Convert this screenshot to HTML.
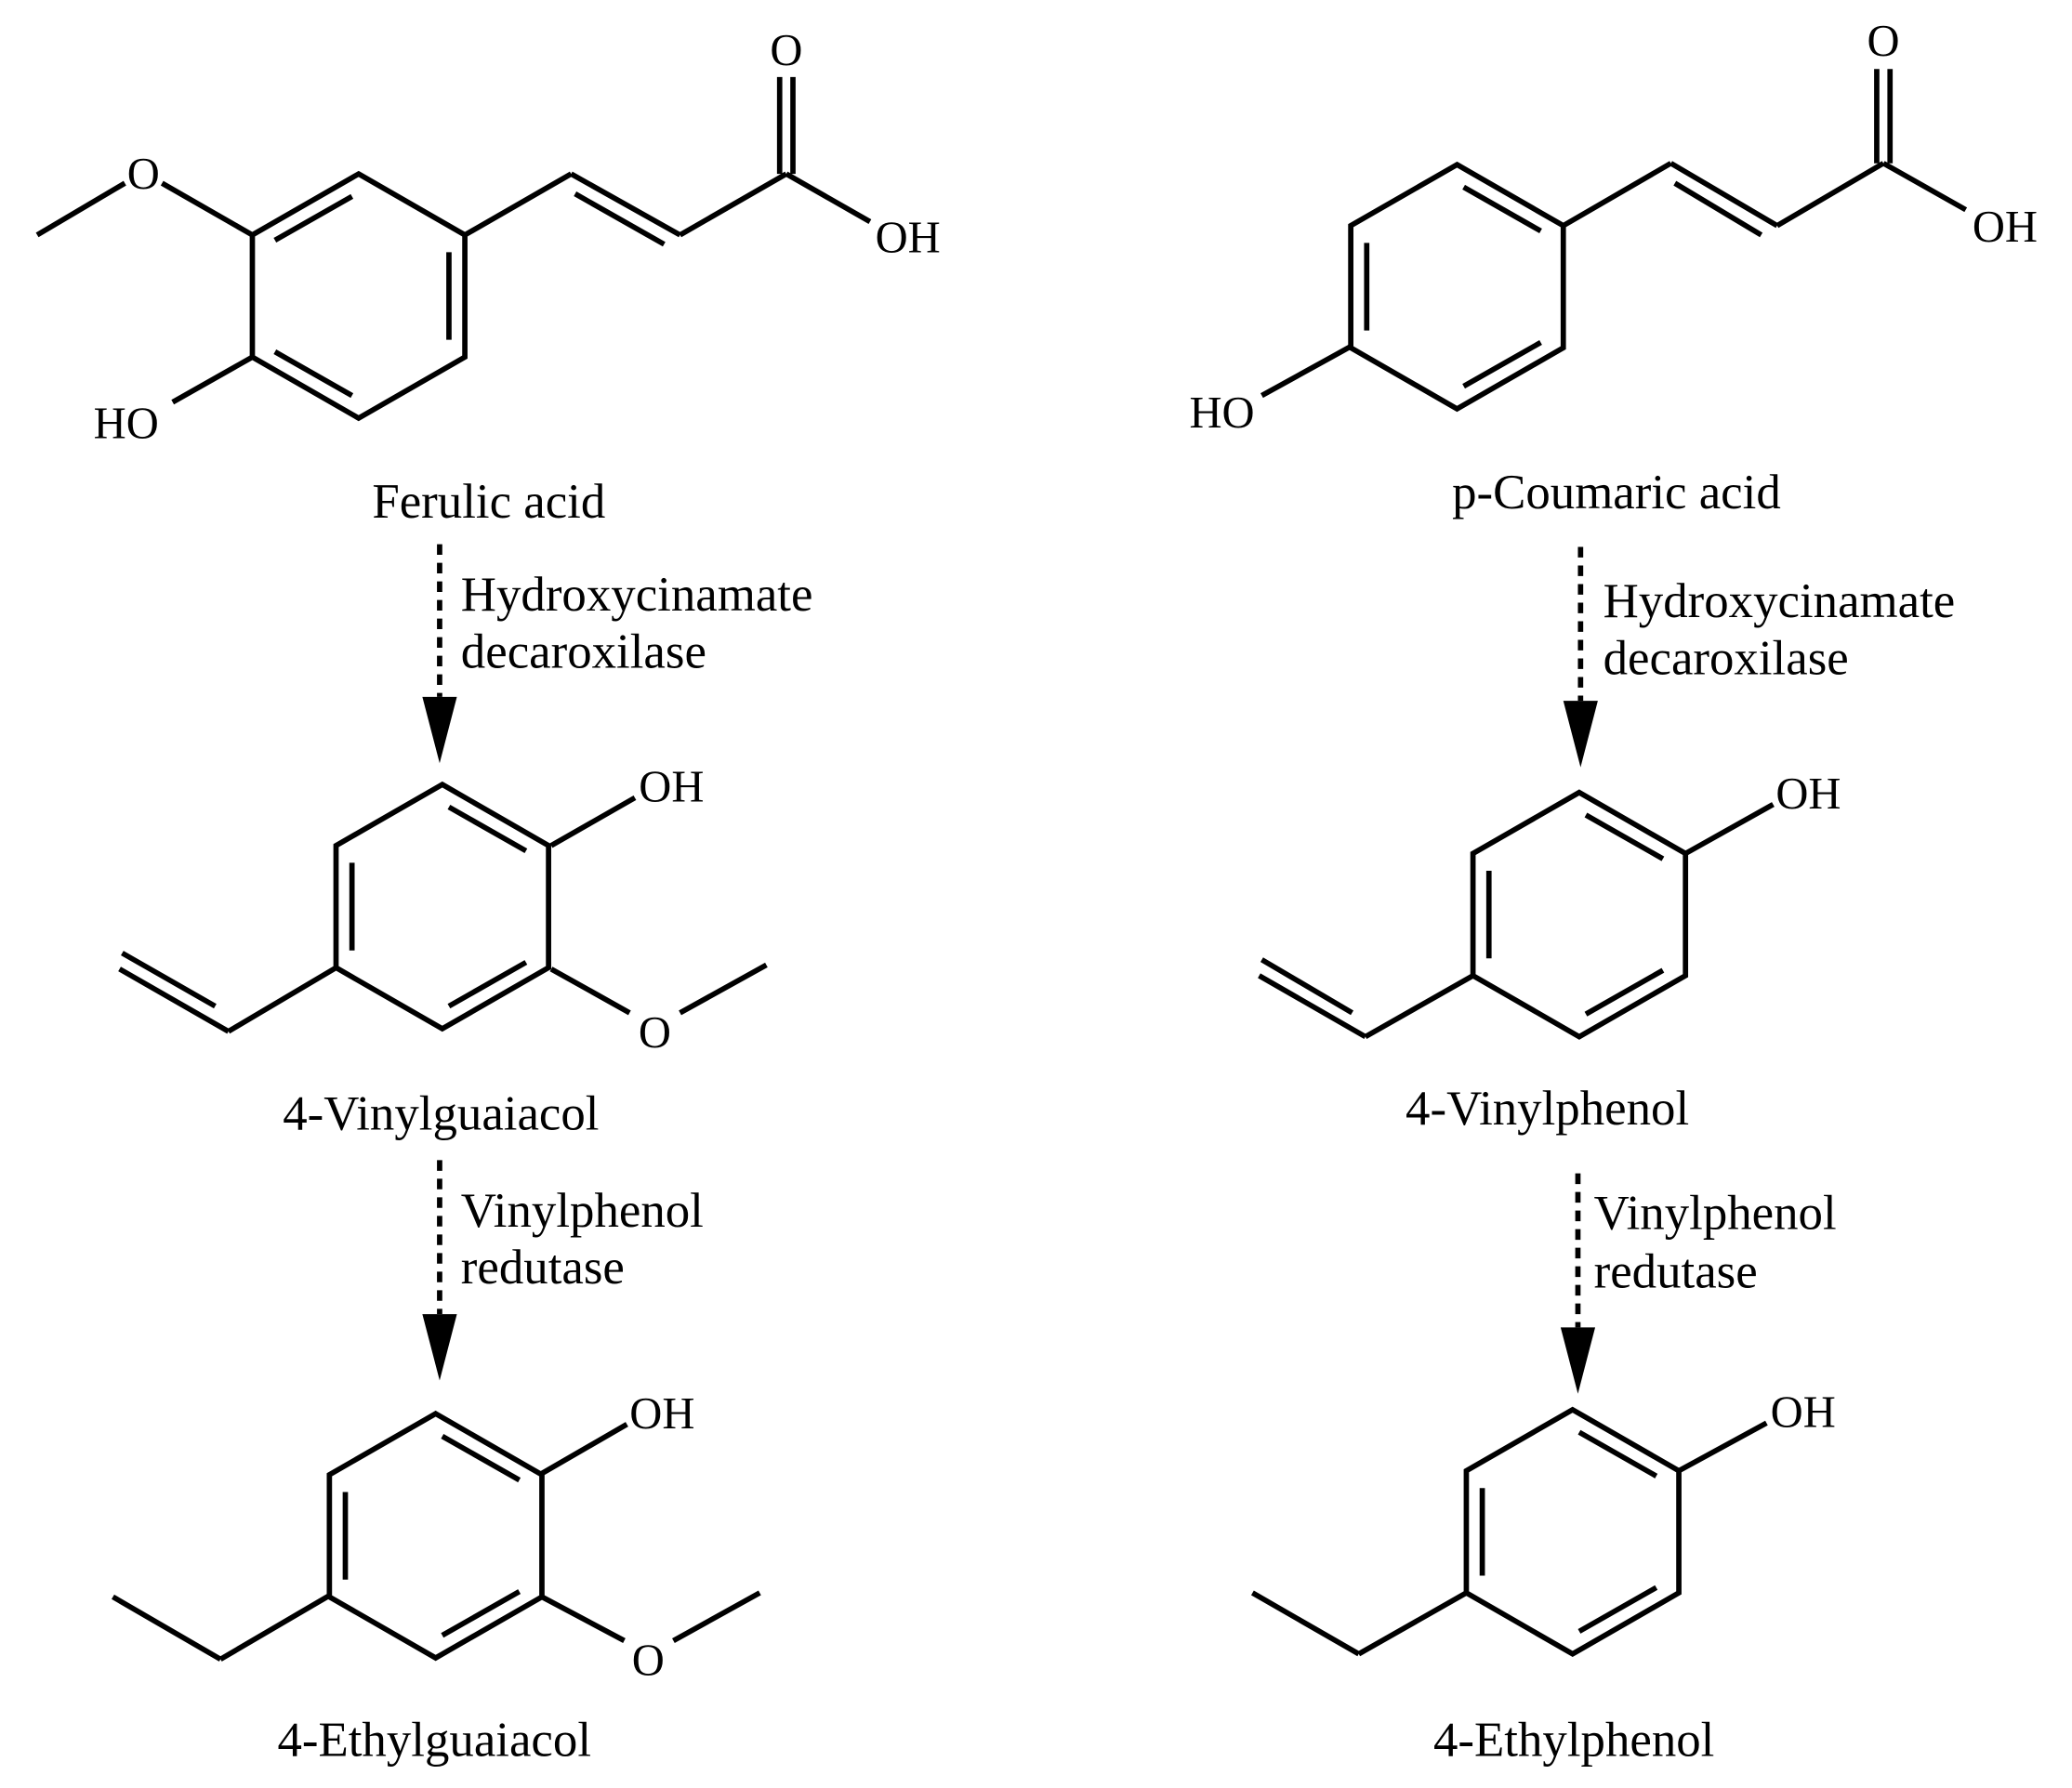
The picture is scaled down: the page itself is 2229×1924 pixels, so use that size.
<!DOCTYPE html>
<html><head><meta charset="utf-8"><style>
html,body{margin:0;padding:0;background:#fff;}
svg{display:block;}
text{font-family:"Liberation Serif",serif;fill:#000;}
</style></head><body>
<svg width="2229" height="1924" viewBox="0 0 1560 1347" preserveAspectRatio="none" xmlns="http://www.w3.org/2000/svg">
<defs>
<g id="ringA" fill="none" stroke="#000" stroke-width="4" stroke-linejoin="miter">
<polygon points="0,-92 80,-46 80,46 0,92 -80,46 -80,-46"/>
<line x1="-63" y1="-42" x2="-5" y2="-75"/>
<line x1="68" y1="-33" x2="68" y2="33"/>
<line x1="-63" y1="42" x2="-5" y2="75"/>
</g>
<g id="ringB" fill="none" stroke="#000" stroke-width="4" stroke-linejoin="miter">
<polygon points="0,-92 80,-46 80,46 0,92 -80,46 -80,-46"/>
<line x1="5" y1="-75" x2="63" y2="-42"/>
<line x1="-68" y1="-33" x2="-68" y2="33"/>
<line x1="5" y1="75" x2="63" y2="42"/>
</g>
<g id="arrowhead"><polygon points="-13,0 13,0 0,50" fill="#000"/></g>
</defs>

<g stroke="#000" stroke-width="4" fill="none">
<line x1="190" y1="177" x2="122" y2="138"/>
<line x1="94" y1="138" x2="28" y2="177"/>
<line x1="190" y1="269" x2="130" y2="303"/>
<line x1="350" y1="177" x2="430" y2="131"/>
<line x1="430" y1="131" x2="512" y2="177"/>
<line x1="433" y1="146" x2="500" y2="184"/>
<line x1="512" y1="177" x2="592" y2="131"/>
<line x1="587" y1="131" x2="587" y2="58"/>
<line x1="597" y1="131" x2="597" y2="58"/>
<line x1="592" y1="131" x2="655" y2="167"/>

<line x1="415" y1="637" x2="478" y2="601"/>
<line x1="415" y1="730" x2="474" y2="763"/>
<line x1="512" y1="763" x2="577" y2="727"/>
<line x1="253" y1="729" x2="172" y2="777"/>
<line x1="172" y1="777" x2="90" y2="730"/>
<line x1="92" y1="718" x2="162" y2="758"/>

<line x1="408" y1="1110" x2="472" y2="1073"/>
<line x1="408" y1="1203" x2="470" y2="1236"/>
<line x1="507" y1="1236" x2="572" y2="1200"/>
<line x1="248" y1="1202" x2="166" y2="1250"/>
<line x1="166" y1="1250" x2="85" y2="1203"/>

<line x1="1017" y1="261" x2="950" y2="298"/>
<line x1="1177" y1="170" x2="1258" y2="123"/>
<line x1="1258" y1="123" x2="1338" y2="170"/>
<line x1="1261" y1="138" x2="1326" y2="177"/>
<line x1="1338" y1="170" x2="1418" y2="123"/>
<line x1="1413" y1="123" x2="1413" y2="52"/>
<line x1="1423" y1="123" x2="1423" y2="52"/>
<line x1="1418" y1="123" x2="1480" y2="158"/>

<line x1="1269" y1="643" x2="1335" y2="606"/>
<line x1="1109" y1="735" x2="1028" y2="781"/>
<line x1="1028" y1="781" x2="948" y2="735"/>
<line x1="950" y1="723" x2="1018" y2="763"/>

<line x1="1264" y1="1108" x2="1330" y2="1072"/>
<line x1="1104" y1="1200" x2="1023" y2="1246"/>
<line x1="1023" y1="1246" x2="943" y2="1200"/>

<g stroke-dasharray="8,6">
<line x1="331" y1="410" x2="331" y2="525"/>
<line x1="331" y1="874" x2="331" y2="990"/>
<line x1="1190" y1="412" x2="1190" y2="528"/>
<line x1="1188" y1="884" x2="1188" y2="1000"/>
</g>
</g>

<use href="#ringA" transform="translate(270,223)"/>
<use href="#ringB" transform="translate(333,683)"/>
<use href="#ringB" transform="translate(328,1157)"/>
<use href="#ringB" transform="translate(1097,216)"/>
<use href="#ringB" transform="translate(1189,689)"/>
<use href="#ringB" transform="translate(1184,1154)"/>

<use href="#arrowhead" transform="translate(331,525)"/>
<use href="#arrowhead" transform="translate(331,990)"/>
<use href="#arrowhead" transform="translate(1190,528)"/>
<use href="#arrowhead" transform="translate(1188,1000)"/>

<g font-size="34">
<text x="108" y="142" text-anchor="middle">O</text>
<text x="95" y="330" text-anchor="middle">HO</text>
<text x="592" y="49" text-anchor="middle">O</text>
<text x="659" y="190">OH</text>
<text x="481" y="604">OH</text>
<text x="493" y="789" text-anchor="middle">O</text>
<text x="474" y="1076">OH</text>
<text x="488" y="1262" text-anchor="middle">O</text>
<text x="1418" y="42" text-anchor="middle">O</text>
<text x="920" y="322" text-anchor="middle">HO</text>
<text x="1485" y="182">OH</text>
<text x="1337" y="609">OH</text>
<text x="1333" y="1075">OH</text>
</g>
<g font-size="37">
<text x="368" y="390" text-anchor="middle">Ferulic acid</text>
<text x="1217" y="383" text-anchor="middle">p-Coumaric acid</text>
<text x="332" y="851" text-anchor="middle">4-Vinylguaiacol</text>
<text x="1165" y="847" text-anchor="middle">4-Vinylphenol</text>
<text x="327" y="1323" text-anchor="middle">4-Ethylguaiacol</text>
<text x="1185" y="1323" text-anchor="middle">4-Ethylphenol</text>
<text x="347" y="460">Hydroxycinamate</text>
<text x="347" y="503">decaroxilase</text>
<text x="1207" y="465">Hydroxycinamate</text>
<text x="1207" y="508">decaroxilase</text>
<text x="347" y="924">Vinylphenol</text>
<text x="347" y="967">redutase</text>
<text x="1200" y="926">Vinylphenol</text>
<text x="1200" y="970">redutase</text>
</g>
</svg>
</body></html>
